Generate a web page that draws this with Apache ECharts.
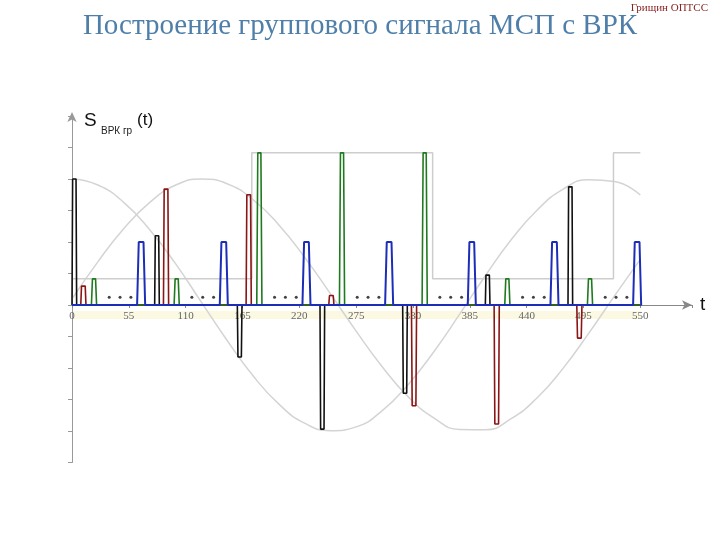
<!DOCTYPE html>
<html><head><meta charset="utf-8">
<script src="https://cdn.jsdelivr.net/npm/echarts@6/dist/echarts.min.js"></script>
<style>html,body{margin:0;padding:0;background:#fff}#c{width:720px;height:540px}</style>
</head><body><div id="c"></div>
<script>
// Frame starts (units of t) of the TDM frame
const frameStarts = [0, 80, 160, 240, 320, 400, 480];
// sampled pulse amplitudes per channel
const blackHeights = [4.0, 2.2, -1.65, -3.94, -2.8, 0.95, 3.75];
const redHeights   = [0.6, 3.68, 3.5, 0.3, -3.2, -3.78, -1.05];
const greenHeights = [0.83, 0.83, 4.83, 4.83, 4.83, 0.83, 0.83];
const blueHeights  = [2, 2, 2, 2, 2, 2, 2];
// "..." dots offset inside each frame
const dotOffsets = [36, 46.5, 57];
// gray source signals
const curveT = [0,25,50,75,100,125,150,175,200,225,250,275,300,325,350,375,400,425,450,475,500,525,550];
const cosValues = [4.00,3.81,3.26,2.40,1.32,0.10,-1.12,-2.24,-3.14,-3.75,-3.99,-3.87,-3.36,-2.54,-1.49,-0.30,0.93,2.07,3.01,3.67,3.98,3.92,3.49];
const sinValues = [0.19,1.37,2.42,3.25,3.80,4.00,3.85,3.35,2.55,1.52,0.36,-0.83,-1.95,-2.90,-3.58,-3.95,-3.96,-3.61,-2.95,-2.02,-0.90,0.29,1.45];
const squareT = [0,174,174,349,349,524,524,550];
const squareV = [0.83,0.83,4.83,4.83,0.83,0.83,4.83,4.83];
const xTicks = [0,55,110,165,220,275,330,385,440,495,550];

function pulses(offset, width, heights, ramp){
  const d = [[0,0]];
  frameStarts.forEach((f,i)=>{
    const s = f + offset, e = s + width;
    d.push([s,0],[s+ramp,heights[i]],[e-ramp,heights[i]],[e,0]);
  });
  d.push([550,0]);
  return d;
}
const dots = [];
frameStarts.forEach(f=>dotOffsets.forEach(o=>dots.push([f+o,0.25])));

const chart = echarts.init(document.getElementById('c'));
chart.setOption({
  animation:false,
  backgroundColor:'#fff',
  grid:{left:72,right:28,top:116,bottom:77.5},
  graphic:[
    {type:'rect',z:-1,shape:{x:73,y:311,width:568,height:8},style:{fill:'#fbf9e2'}},
    {type:'text',left:'center',top:12,style:{text:'Построение группового сигнала МСП с ВРК',font:'29px "Liberation Serif"',fill:'#4f7fa9'}},
    {type:'text',right:12,top:3,style:{text:'Грищин ОПТСС',font:'11px "Liberation Serif"',fill:'#8b2323'}},
    {type:'text',left:84,top:111,style:{text:'S',font:'19px "Liberation Sans"',fill:'#111'}},
    {type:'text',left:101,top:126,style:{text:'ВРК гр',font:'10px "Liberation Sans"',fill:'#222'}},
    {type:'text',left:137,top:112,style:{text:'(t)',font:'17px "Liberation Sans"',fill:'#111'}}
  ],
  xAxis:{type:'value',min:0,max:600,interval:55,offset:-157.5,
    name:'t',nameLocation:'end',nameGap:8,nameTextStyle:{fontSize:19,fontFamily:'Liberation Sans',color:'#111',padding:[0,0,4,0]},
    axisLine:{onZero:false,lineStyle:{color:'#888',width:1},symbol:['none','arrow'],symbolSize:[7,10]},
    axisTick:{show:true,length:3,lineStyle:{color:'#888'}},
    axisLabel:{margin:6,fontFamily:'Liberation Serif',fontSize:11,color:'#666',
      formatter:v=>xTicks.indexOf(v)>=0?String(v):''},
    splitLine:{show:false}},
  yAxis:{type:'value',min:-5,max:6,interval:1,
    axisLine:{lineStyle:{color:'#999',width:1},symbol:['none','arrow'],symbolSize:[7,10],symbolOffset:[0,4]},
    axisTick:{show:true,length:4,lineStyle:{color:'#999'}},
    axisLabel:{show:false},splitLine:{show:false}},
  series:[
    {type:'line',data:curveT.map((t,i)=>[t,cosValues[i]]),smooth:true,symbol:'none',lineStyle:{color:'#d4d4d4',width:1.5},z:1},
    {type:'line',data:curveT.map((t,i)=>[t,sinValues[i]]),smooth:true,symbol:'none',lineStyle:{color:'#d4d4d4',width:1.5},z:1},
    {type:'line',data:squareT.map((t,i)=>[t,squareV[i]]),symbol:'none',lineStyle:{color:'#cdcdcd',width:1.5},z:1},
    {type:'line',data:pulses(0,4.5,blackHeights,0.6),symbol:'none',lineStyle:{color:'#111',width:1.6},z:3},
    {type:'line',data:pulses(8.5,5,redHeights,0.7),symbol:'none',lineStyle:{color:'#8b1414',width:1.6},z:3},
    {type:'line',data:pulses(18.8,5,greenHeights,1.0),symbol:'none',lineStyle:{color:'#1f7a1f',width:1.6},z:3},
    {type:'line',data:pulses(63,7.8,blueHeights,1.6),symbol:'none',lineStyle:{color:'#1c2db8',width:2},z:4},
    {type:'scatter',data:dots,symbol:'circle',symbolSize:3,itemStyle:{color:'#111'},z:5}
  ]
});
</script></body></html>
